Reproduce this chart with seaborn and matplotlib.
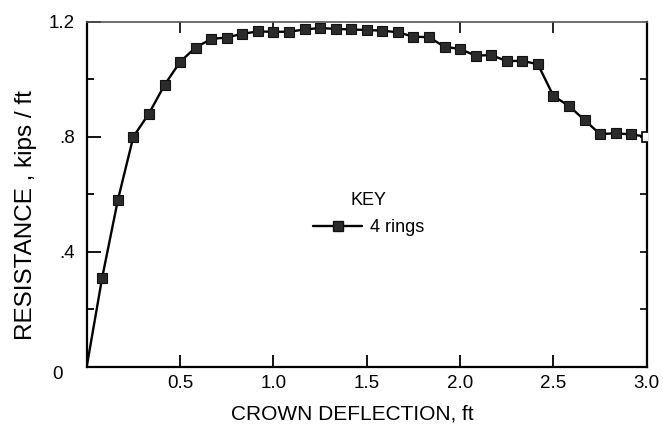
import matplotlib
matplotlib.use("Agg")
import matplotlib.pyplot as plt
import seaborn as sns
import pandas as pd
from matplotlib.lines import Line2D
from matplotlib.transforms import ScaledTranslation

# ---- data ----
deflection = [0.0, 0.083, 0.167, 0.25, 0.333, 0.417, 0.5, 0.583, 0.667, 0.75,
              0.833, 0.917, 1.0, 1.083, 1.167, 1.25, 1.333, 1.417, 1.5, 1.583,
              1.667, 1.75, 1.833, 1.917, 2.0, 2.083, 2.167, 2.25, 2.333, 2.417,
              2.5, 2.583, 2.667, 2.75, 2.833, 2.917, 3.0]
resistance = [0.0, 0.31, 0.58, 0.80, 0.88, 0.98, 1.06, 1.11, 1.14, 1.145,
              1.158, 1.166, 1.165, 1.165, 1.173, 1.178, 1.175, 1.173, 1.171, 1.169,
              1.163, 1.148, 1.146, 1.113, 1.105, 1.082, 1.084, 1.063, 1.064, 1.052,
              0.942, 0.907, 0.858, 0.809, 0.812, 0.808, 0.800]
series_name = "4 rings"
x_ticks = [0.5, 1.0, 1.5, 2.0, 2.5, 3.0]
x_ticklabels = ["0.5", "1.0", "1.5", "2.0", "2.5", "3.0"]
y_ticks = [0.0, 0.4, 0.8, 1.2]
y_ticklabels = ["0", ".4", ".8", "1.2"]
y_minor = [0.2, 0.6, 1.0]

df = pd.DataFrame({"deflection": deflection, "resistance": resistance})

sns.set_theme(style="white")
plt.rcParams["font.family"] = ["Liberation Sans", "DejaVu Sans"]
plt.rcParams["text.color"] = "black"
plt.rcParams["axes.labelcolor"] = "black"
plt.rcParams["xtick.color"] = "black"
plt.rcParams["ytick.color"] = "black"

fig = plt.figure(figsize=(6.63, 4.26), dpi=100)
ax = fig.add_axes([86.7 / 663, 1 - 366.7 / 426, (646.7 - 86.7) / 663, (366.7 - 21.7) / 426])

n = len(df)
sns.lineplot(data=df, x="deflection", y="resistance", ax=ax, color="black",
             linewidth=1.7, marker="s", markersize=6.8,
             markerfacecolor="#2b2b2b", markeredgecolor="#111111",
             markeredgewidth=0.8, markevery=list(range(1, n - 1)))
last = df.iloc[[n - 1]]
ax.plot(last["deflection"], last["resistance"], linestyle="none", marker="s",
        markersize=6.8, markerfacecolor="white", markeredgecolor="black",
        markeredgewidth=1.2, clip_on=True, zorder=3)

ax.set_xlim(0, 3.0)
ax.set_ylim(0, 1.2)
ax.set_xticks(x_ticks)
ax.set_xticklabels(x_ticklabels, fontsize=13.5)
ax.set_yticks(y_ticks)
ax.set_yticklabels(y_ticklabels, fontsize=13.5)
ax.set_yticks(y_minor, minor=True)
ax.tick_params(axis="x", direction="in", length=9, width=1.3, color="black",
               pad=6, bottom=True)
ax.tick_params(axis="y", which="major", direction="in", length=10, width=1.3,
               color="black", pad=8.5, left=True)
ax.tick_params(axis="y", which="minor", direction="in", length=5, width=1.3,
               color="black", left=True)
lab0 = ax.get_yticklabels()[0]
lab0.set_transform(lab0.get_transform() +
                   ScaledTranslation(-0.12, -0.06, fig.dpi_scale_trans))

sec_x = ax.secondary_xaxis("top")
sec_x.set_xticks([0.5, 1.0, 2.0, 2.5])
sec_x.tick_params(direction="in", length=8, width=1.2, labeltop=False)
sec_x.spines["top"].set_visible(False)
sec_y = ax.secondary_yaxis("right")
sec_y.set_yticks([0.2, 0.4, 0.6, 0.8, 1.0])
sec_y.tick_params(direction="in", length=5, width=1.2, labelright=False)
sec_y.spines["right"].set_visible(False)

for side in ["left", "bottom", "right"]:
    ax.spines[side].set_visible(True)
    ax.spines[side].set_color("black")
    ax.spines[side].set_linewidth(1.6)
ax.spines["top"].set_color("#555555")
ax.spines["top"].set_linewidth(1.2)

ax.set_xlabel("CROWN DEFLECTION, ft", fontsize=15)
ax.xaxis.set_label_coords(0.474, -0.11)
ax.set_ylabel("RESISTANCE , kips / ft", fontsize=17.5)
ax.yaxis.set_label_coords(-0.088, 0.44)

handle = Line2D([], [], color="black", linewidth=1.7, marker="s", markersize=6.8,
                markerfacecolor="#2b2b2b", markeredgecolor="#111111")
leg = ax.legend([handle], [series_name], title="KEY", frameon=False,
                loc="upper left", bbox_to_anchor=(306 / 663, 1 - 185 / 426),
                bbox_transform=fig.transFigure, fontsize=13, title_fontsize=13,
                handlelength=2.7, handletextpad=0.45, borderpad=0.4,
                borderaxespad=0, labelspacing=0.2)
leg._legend_box.align = "center"
leg._legend_box.sep = 7

fig.savefig("out.png", dpi=100)
